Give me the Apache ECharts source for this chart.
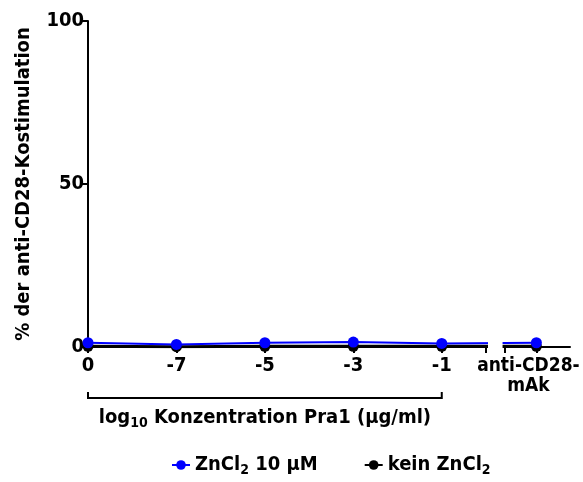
<!DOCTYPE html>
<html><head><meta charset="utf-8">
<script src="https://cdn.jsdelivr.net/npm/echarts@6/dist/echarts.min.js"></script>
<style>html,body{margin:0;padding:0;background:#fff}#c{width:583px;height:482px}</style>
</head><body><div id="c"></div>
<script>
// Data
const categories = ['0', '-7', '-5', '-3', '-1', 'anti-CD28-\nmAk'];
const xPositions = [0, 1, 2, 3, 4, 5.07];
const znCl2Values = [1.3, 0.8, 1.3, 1.5, 1.1, 1.3];
const keinZnCl2Values = [0.2, 0.1, 0.2, 0.2, 0.2, 0.2];
const yTicks = [0, 50, 100];
const breakStart = 4.5, breakEnd = 4.71, axisMax = 5.45;

const FONT = '"Liberation Sans Narrow", "DejaVu Sans Condensed", sans-serif';
const chart = echarts.init(document.getElementById('c'));
const pair = (arr) => arr.map((v, i) => [xPositions[i], v]);
const labelMap = {};
xPositions.forEach((p, i) => labelMap[p] = categories[i]);
const lastPos = xPositions[xPositions.length - 1];

chart.setOption({
  animation: false,
  grid: { left: 88, right: 13, top: 21, bottom: 135, containLabel: false, outerBoundsMode: 'none' },
  xAxis: {
    type: 'value', min: 0, max: axisMax,
    axisLine: { show: true, onZero: false, lineStyle: { color: '#000', width: 2 } },
    axisTick: { show: true, length: 6, inside: false, lineStyle: { color: '#000', width: 2 },
      customValues: [0, 1, 2, 3, 4, breakStart, breakEnd, lastPos] },
    axisLabel: { customValues: xPositions,
      formatter: v => {
        const t = labelMap[v] !== undefined ? labelMap[v] : '';
        return v === lastPos ? t.split('\n').map(s => '{e|' + s + '}').join('\n') : t;
      },
      rich: { e: { fontFamily: FONT, fontWeight: 'bold', fontSize: 19, color: '#000', lineHeight: 20, padding: [0, 16, 0, 0] } },
      color: '#000', fontFamily: FONT, fontWeight: 'bold', fontSize: 20, margin: 9, lineHeight: 20 },
    splitLine: { show: false }
  },
  yAxis: {
    type: 'value', min: 0, max: 100, interval: 50,
    name: '% der anti-CD28-Kostimulation', nameLocation: 'middle', nameGap: 54,
    nameTextStyle: { color: '#000', fontFamily: FONT, fontWeight: 'bold', fontSize: 20 },
    axisLine: { show: true, lineStyle: { color: '#000', width: 2 } },
    axisTick: { show: true, length: 6, lineStyle: { color: '#000', width: 2 } },
    axisLabel: { color: '#000', fontFamily: FONT, fontWeight: 'bold', fontSize: 20, margin: 4,
      formatter: v => yTicks.includes(v) ? String(v) : '' },
    splitLine: { show: false }
  },
  legend: {
    bottom: 0, left: 166, itemGap: 46, itemWidth: 18, itemHeight: 12,
    data: ['ZnCl2 10 µM', 'kein ZnCl2'],
    formatter: n => n === 'ZnCl2 10 µM' ? '{a|ZnCl}{s|2}{a| 10 µM}' : '{a|kein ZnCl}{s|2}',
    textStyle: { color: '#000', fontFamily: FONT, fontWeight: 'bold', fontSize: 20,
      rich: { a: { fontFamily: FONT, fontWeight: 'bold', fontSize: 20, color: '#000' },
              s: { fontFamily: FONT, fontWeight: 'bold', fontSize: 14, color: '#000', padding: [10, 0, 0, 0] } } }
  },
  series: [
    { name: 'kein ZnCl2', type: 'line', data: pair(keinZnCl2Values), symbol: 'circle', symbolSize: 11,
      itemStyle: { color: '#000' }, lineStyle: { color: '#000', width: 3 }, z: 2 },
    { name: 'ZnCl2 10 µM', type: 'line', data: pair(znCl2Values), symbol: 'circle', symbolSize: 11,
      itemStyle: { color: '#0000ff' }, lineStyle: { color: '#0000ff', width: 2 }, z: 3 }
  ]
});

function addGraphics() {
  const p0 = chart.convertToPixel({ gridIndex: 0 }, [0, 0]);
  const p4 = chart.convertToPixel({ gridIndex: 0 }, [4, 0]);
  const pb0 = chart.convertToPixel({ gridIndex: 0 }, [breakStart, 0]);
  const pb1 = chart.convertToPixel({ gridIndex: 0 }, [breakEnd, 0]);
  const by = p0[1] + 51;
  chart.setOption({
    graphic: [
      { type: 'rect', shape: { x: pb0[0] + 2, y: p0[1] - 14, width: pb1[0] - pb0[0] - 4, height: 26 },
        style: { fill: '#fff' }, z: 100 },
      { type: 'polyline', shape: { points: [[p0[0], by - 6], [p0[0], by], [p4[0], by], [p4[0], by - 6]] },
        style: { stroke: '#000', lineWidth: 2, fill: null }, z: 100 },
      { type: 'text', x: (p0[0] + p4[0]) / 2, y: by + 20,
        style: { text: '{a|log}{s|10}{a| Konzentration Pra1 (µg/ml)}', align: 'center', verticalAlign: 'middle',
          rich: { a: { fontFamily: FONT, fontWeight: 'bold', fontSize: 20, fill: '#000' },
                  s: { fontFamily: FONT, fontWeight: 'bold', fontSize: 14, fill: '#000', padding: [10, 0, 0, 0] } } },
        z: 100 }
    ]
  });
}
addGraphics();
</script></body></html>
